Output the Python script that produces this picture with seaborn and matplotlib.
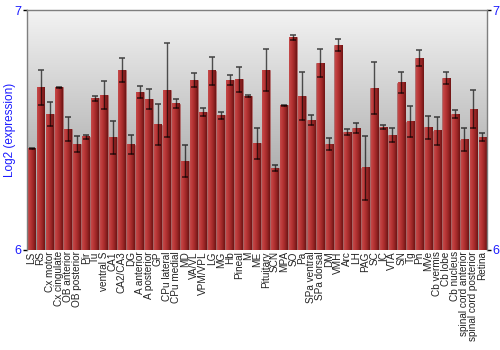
import numpy as np
import pandas as pd
import matplotlib
matplotlib.use("Agg")
import matplotlib.pyplot as plt
import seaborn as sns
from matplotlib.colors import LinearSegmentedColormap

regions = ["LS", "RS", "Cx motor", "Cx cingulate", "OB anterior", "OB posterior", "Pir", "Tu",
           "ventral S", "CA1", "CA2/CA3", "DG", "A anterior", "A posterior", "GP", "CPu lateral",
           "CPu medial", "MD", "VA/VL", "VPM/VPL", "LG", "MG", "Hb", "Pineal", "M", "ME",
           "Pituitary", "SCN", "MPA", "SO", "Pa", "SPa ventral", "SPa dorsal", "DM", "VMH", "Arc",
           "LH", "PAG", "SC", "IC", "VTA", "SN", "Tg", "Pn", "MVe", "Cb vermis", "Cb lobe",
           "Cb nucleus", "spinal cord anterior", "spinal cord posterior", "Retina"]
expression = [6.424, 6.676, 6.567, 6.678, 6.503, 6.442, 6.472, 6.633,
              6.646, 6.469, 6.750, 6.438, 6.658, 6.629, 6.522, 6.667,
              6.610, 6.371, 6.708, 6.575, 6.747, 6.561, 6.708, 6.711, 6.642, 6.444,
              6.749, 6.342, 6.604, 6.886, 6.642, 6.542, 6.779, 6.442, 6.854, 6.492,
              6.508, 6.343, 6.675, 6.513, 6.479, 6.697, 6.535, 6.800, 6.511, 6.497, 6.717,
              6.567, 6.460, 6.588, 6.471]
error = [0.002, 0.073, 0.050, 0.003, 0.050, 0.032, 0.009, 0.010,
         0.058, 0.070, 0.050, 0.040, 0.026, 0.043, 0.085, 0.196,
         0.020, 0.068, 0.030, 0.018, 0.058, 0.015, 0.022, 0.053, 0.003, 0.063,
         0.087, 0.011, 0.002, 0.010, 0.100, 0.019, 0.058, 0.025, 0.024, 0.011,
         0.022, 0.133, 0.108, 0.008, 0.031, 0.043, 0.065, 0.035, 0.049, 0.059, 0.023,
         0.016, 0.049, 0.081, 0.015]
y_ticks = [6, 7]

df = pd.DataFrame({"region": regions, "expr": expression, "err": error})

sns.set_theme(style="white")
plt.rcParams['font.family'] = ['Liberation Sans', 'DejaVu Sans']

fig = plt.figure(figsize=(5, 3.5), dpi=100)
ax = fig.add_axes([0.054, 0.286, 0.92, 0.685])

sns.barplot(data=df, x="region", y="expr", ax=ax, color="#a83030",
            width=0.88, edgecolor="#b06060", linewidth=0.4, errorbar=None, zorder=2)

ymin, ymax = 6, 7
ax.set_ylim(ymin, ymax)
ax.set_xlim(-0.5, len(regions) - 0.5)

# background gradient
bg = LinearSegmentedColormap.from_list("bg", ["#8e8e8e", "#f3f3f3"])
grad = np.linspace(0, 1, 256).reshape(-1, 1)
ax.imshow(grad, cmap=bg, aspect="auto", origin="lower",
          extent=(-0.5, len(regions) - 0.5, ymin, ymax), zorder=0)

# bar gradient (drawn over the visible part of each bar)
barcm = LinearSegmentedColormap.from_list("bar", ["#c44a4a", "#b83535", "#9a2626", "#6e1414"])
hgrad = np.linspace(0, 1, 64).reshape(1, -1)
for p in list(ax.patches):
    x0 = p.get_x()
    w = p.get_width()
    top = p.get_y() + p.get_height()
    ax.imshow(hgrad, cmap=barcm, aspect="auto", extent=(x0 + 0.04, x0 + w - 0.04, ymin, top),
              zorder=2.5)

ax.set_xlim(-0.5, len(regions) - 0.5)
ax.set_ylim(ymin, ymax)

ax.errorbar(np.arange(len(regions)), df["expr"], yerr=df["err"], fmt="none",
            ecolor=(0, 0, 0, 0.65), elinewidth=1.0, capsize=2, capthick=1.2, zorder=4)

ax.set_xlabel("")
ax.set_ylabel("Log2 (expression)", color="#1a1aff", fontsize=8.5, labelpad=-1)
ax.set_yticks(y_ticks)
ax.set_yticklabels([str(t) for t in y_ticks], color="#1a1aff", fontsize=9)
ax.tick_params(axis="y", which="both", left=True, right=True, labelleft=True, labelright=True,
               length=3, width=1, color="black", pad=1)
ax.tick_params(axis="x", bottom=False, length=0, pad=1)
ax.set_xticks(np.arange(len(regions)))
ax.set_xticklabels(regions, rotation=90, fontsize=7.2, color="#222222")

for s in ["left", "right", "top"]:
    ax.spines[s].set_visible(True)
    ax.spines[s].set_color("#7f7f7f")
    ax.spines[s].set_linewidth(1)
ax.spines["bottom"].set_visible(False)

fig.savefig("out.png", dpi=100)
